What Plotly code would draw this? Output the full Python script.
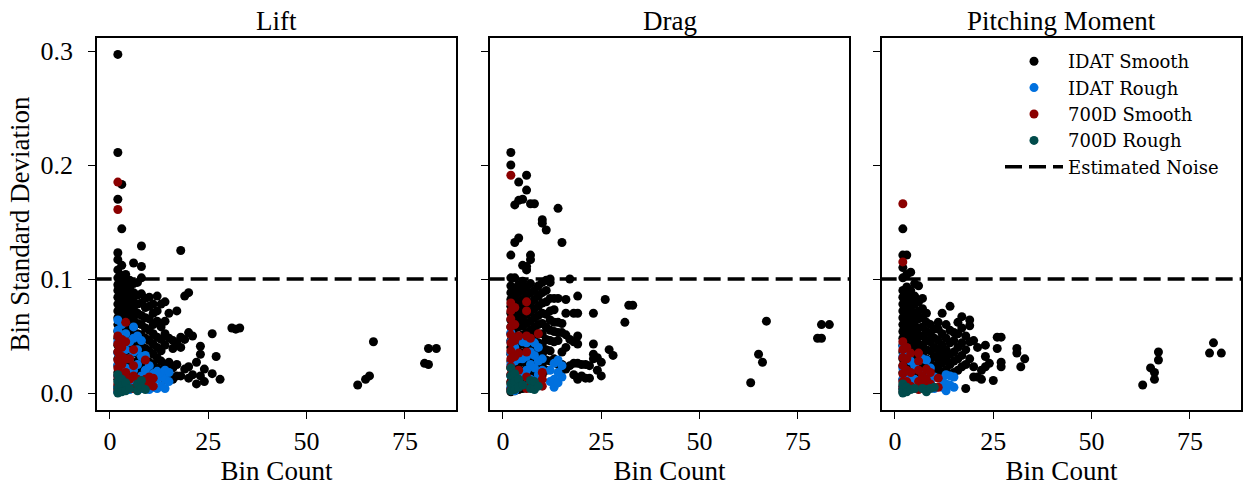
import plotly.graph_objects as go

# ---------------- data (columns: (bin count, [bin std values])) ----------------
panel_titles = ["Lift", "Drag", "Pitching Moment"]
series_names = ["IDAT Smooth", "IDAT Rough", "700D Smooth", "700D Rough"]
series_colors = ["#000000", "#0070DE", "#8B0000", "#004B4B"]
estimated_noise = 0.1
x_tick_values = [0, 25, 50, 75]
y_tick_values = [0.0, 0.1, 0.2, 0.3]

lift_idat_smooth = [
    (2, [0.297, 0.211, 0.170, 0.123, 0.117, 0.108, 0.101, 0.095, 0.090, 0.084, 0.078, 0.072,
         0.066, 0.060, 0.054, 0.048, 0.042, 0.036, 0.030, 0.024, 0.018, 0.012, 0.006, 0.001]),
    (3, [0.183, 0.144, 0.112, 0.103, 0.097, 0.091, 0.086, 0.079, 0.072, 0.065, 0.058, 0.051,
         0.044, 0.037, 0.029, 0.021, 0.012, 0.004]),
    (4, [0.104, 0.098, 0.092, 0.087, 0.081, 0.074, 0.068, 0.061, 0.053, 0.046, 0.039, 0.031,
         0.022, 0.013, 0.005]),
    (5, [0.099, 0.092, 0.084, 0.077, 0.070, 0.063, 0.055, 0.048, 0.040, 0.032, 0.024, 0.015]),
    (6, [0.114, 0.096, 0.088, 0.080, 0.073, 0.066, 0.058, 0.050, 0.043, 0.035, 0.027, 0.018, 0.009]),
    (7, [0.097, 0.086, 0.078, 0.070, 0.061, 0.052, 0.045, 0.036, 0.028, 0.019]),
    (8, [0.129, 0.111, 0.101, 0.087, 0.079, 0.068, 0.060, 0.051, 0.042, 0.033, 0.024, 0.014]),
    (9, [0.083, 0.075, 0.066, 0.057, 0.048, 0.039, 0.030, 0.021]),
    (10, [0.084, 0.076, 0.065, 0.055, 0.046, 0.037, 0.027, 0.018]),
    (11, [0.078, 0.070, 0.060, 0.052, 0.043, 0.034, 0.025, 0.016]),
    (12, [0.085, 0.072, 0.063, 0.049, 0.040, 0.031, 0.022, 0.013]),
    (13, [0.078, 0.058, 0.047, 0.037, 0.028, 0.020]),
    (14, [0.080, 0.063, 0.052, 0.042, 0.024, 0.012]),
    (15, [0.070, 0.048, 0.027, 0.017]),
    (16, [0.046, 0.039, 0.022, 0.012]),
    (17, [0.072, 0.044, 0.025, 0.015]),
    (18, [0.125, 0.049, 0.040, 0.015]),
    (19, [0.085, 0.047, 0.021]),
    (20, [0.088, 0.053, 0.023, 0.013]),
    (21, [0.050, 0.016]),
    (22, [0.027, 0.008]),
    (23, [0.041, 0.034, 0.015]),
    (24, [0.021, 0.010]),
    (26, [0.052, 0.017]),
    (27, [0.032]),
    (28, [0.012]),
    (31, [0.057]),
    (32, [0.056]),
    (33, [0.057]),
    (63, [0.007]),
    (65, [0.012]),
    (66, [0.015]),
    (67, [0.045]),
    (80, [0.026]),
    (81, [0.025, 0.039]),
    (83, [0.039]),
]
lift_idat_rough = [
    (2, [0.064, 0.055, 0.045, 0.035, 0.025, 0.015, 0.005, 0.001]),
    (3, [0.060, 0.050, 0.040, 0.030, 0.020, 0.010, 0.003]),
    (4, [0.052, 0.038, 0.022, 0.008]),
    (5, [0.045, 0.030, 0.012, 0.003]),
    (6, [0.058, 0.048, 0.036, 0.020, 0.006]),
    (7, [0.050, 0.038, 0.025, 0.009]),
    (8, [0.046, 0.032, 0.015, 0.004]),
    (9, [0.033, 0.020, 0.006]),
    (10, [0.024, 0.010, 0.003]),
    (11, [0.017, 0.005]),
    (12, [0.019, 0.012, 0.004]),
    (13, [0.015, 0.006]),
    (14, [0.020, 0.012, 0.004]),
    (15, [0.018, 0.010]),
]
lift_700d_smooth = [
    (2, [0.185, 0.161, 0.050, 0.043, 0.036, 0.029, 0.022, 0.015, 0.008, 0.003]),
    (3, [0.047, 0.040, 0.032, 0.025, 0.017, 0.010]),
    (4, [0.062, 0.045, 0.030, 0.018, 0.006]),
    (5, [0.030, 0.012]),
    (6, [0.038, 0.024, 0.015, 0.004]),
    (7, [0.012, 0.005]),
    (9, [0.029, 0.012, 0.005]),
    (10, [0.014, 0.007]),
    (11, [0.013, 0.006]),
]
lift_700d_rough = [
    (2, [0.016, 0.010, 0.004, 0.000]),
    (3, [0.012, 0.006, 0.001]),
    (4, [0.009, 0.002]),
    (5, [0.004]),
    (7, [0.008, 0.002]),
    (8, [0.011, 0.005]),
    (9, [0.003]),
]

drag_idat_smooth = [
    (2, [0.211, 0.200, 0.121, 0.101, 0.094, 0.088, 0.082, 0.076, 0.070, 0.064, 0.058, 0.052,
         0.046, 0.040, 0.034, 0.028, 0.022, 0.016, 0.010, 0.004, 0.001]),
    (3, [0.165, 0.132, 0.101, 0.092, 0.085, 0.078, 0.071, 0.064, 0.057, 0.050, 0.043, 0.036,
         0.029, 0.022, 0.015, 0.008, 0.002]),
    (4, [0.185, 0.169, 0.136, 0.095, 0.088, 0.080, 0.072, 0.065, 0.058, 0.050, 0.042, 0.034,
         0.026, 0.018, 0.010, 0.003]),
    (5, [0.170, 0.112, 0.098, 0.090, 0.082, 0.074, 0.066, 0.059, 0.051, 0.043, 0.035, 0.027,
         0.019, 0.011, 0.004]),
    (6, [0.191, 0.178, 0.111, 0.108, 0.093, 0.085, 0.077, 0.069, 0.061, 0.053, 0.045, 0.037,
         0.029, 0.021, 0.013, 0.005]),
    (7, [0.166, 0.121, 0.117, 0.096, 0.088, 0.079, 0.071, 0.063, 0.055, 0.047, 0.039, 0.031,
         0.023, 0.015, 0.007]),
    (8, [0.166, 0.090, 0.082, 0.074, 0.066, 0.058, 0.050, 0.042, 0.034, 0.026, 0.018, 0.010]),
    (9, [0.094, 0.085, 0.076, 0.068, 0.060, 0.052, 0.044, 0.036, 0.028, 0.020, 0.012]),
    (10, [0.152, 0.149, 0.097, 0.088, 0.079, 0.070, 0.061, 0.052, 0.043, 0.034, 0.025, 0.016]),
    (11, [0.143, 0.099, 0.090, 0.080, 0.069, 0.058, 0.047, 0.038, 0.029, 0.020]),
    (12, [0.100, 0.097, 0.083, 0.072, 0.064, 0.055, 0.046, 0.037, 0.028]),
    (13, [0.083, 0.073, 0.062, 0.054, 0.045, 0.030]),
    (14, [0.162, 0.083, 0.062, 0.053, 0.046, 0.025]),
    (15, [0.132, 0.061, 0.053, 0.036, 0.025, 0.020]),
    (16, [0.082, 0.070, 0.051, 0.040, 0.021]),
    (17, [0.100, 0.047, 0.024]),
    (18, [0.070, 0.045, 0.026, 0.016]),
    (19, [0.085, 0.070, 0.050, 0.043, 0.026, 0.012]),
    (20, [0.025, 0.015]),
    (21, [0.025, 0.013]),
    (22, [0.024, 0.013]),
    (23, [0.070, 0.043, 0.034, 0.030]),
    (24, [0.031, 0.020]),
    (25, [0.027, 0.015]),
    (26, [0.082]),
    (27, [0.038]),
    (28, [0.033]),
    (31, [0.062]),
    (32, [0.077]),
    (33, [0.077]),
    (63, [0.009]),
    (65, [0.034]),
    (66, [0.027]),
    (67, [0.063]),
    (80, [0.048]),
    (81, [0.048, 0.060]),
    (83, [0.060]),
]
drag_idat_rough = [
    (2, [0.053, 0.045, 0.035, 0.025, 0.015, 0.005]),
    (3, [0.040, 0.028, 0.012, 0.002]),
    (4, [0.030, 0.015]),
    (5, [0.045, 0.030, 0.018]),
    (6, [0.044, 0.032, 0.020, 0.006]),
    (7, [0.046, 0.036, 0.025, 0.012]),
    (8, [0.044, 0.033, 0.022]),
    (9, [0.040, 0.028, 0.016]),
    (10, [0.030, 0.020]),
    (12, [0.020, 0.010]),
    (13, [0.026, 0.012, 0.005]),
    (14, [0.029, 0.018, 0.009]),
    (15, [0.024, 0.014]),
]
drag_700d_smooth = [
    (2, [0.191, 0.079, 0.072, 0.065, 0.058, 0.051, 0.044, 0.037, 0.030, 0.023, 0.016, 0.009, 0.003]),
    (3, [0.075, 0.060, 0.046, 0.032, 0.018, 0.005]),
    (4, [0.050, 0.035, 0.020, 0.008]),
    (6, [0.080, 0.072, 0.050, 0.036, 0.014, 0.004]),
    (7, [0.048, 0.010]),
    (9, [0.052, 0.008]),
    (10, [0.018, 0.012, 0.006]),
]
drag_700d_rough = [
    (2, [0.022, 0.015, 0.008, 0.002]),
    (3, [0.017, 0.010, 0.003]),
    (4, [0.012, 0.005]),
    (5, [0.007]),
    (7, [0.011, 0.004]),
    (8, [0.010, 0.003]),
    (9, [0.006]),
]

moment_idat_smooth = [
    (2, [0.144, 0.121, 0.110, 0.101, 0.090, 0.084, 0.078, 0.072, 0.066, 0.060, 0.054, 0.048,
         0.042, 0.036, 0.030, 0.024, 0.018, 0.012, 0.006, 0.001]),
    (3, [0.121, 0.104, 0.093, 0.087, 0.080, 0.073, 0.066, 0.059, 0.052, 0.045, 0.038, 0.031,
         0.024, 0.017, 0.010, 0.003]),
    (4, [0.106, 0.090, 0.082, 0.075, 0.068, 0.061, 0.054, 0.047, 0.040, 0.033, 0.026, 0.019,
         0.012, 0.005]),
    (5, [0.096, 0.085, 0.078, 0.070, 0.063, 0.056, 0.049, 0.042, 0.035, 0.028, 0.021, 0.014]),
    (6, [0.094, 0.080, 0.072, 0.065, 0.057, 0.050, 0.043, 0.036, 0.029, 0.022, 0.015]),
    (7, [0.083, 0.074, 0.066, 0.058, 0.050, 0.042, 0.034, 0.026, 0.018]),
    (8, [0.070, 0.062, 0.054, 0.046, 0.038, 0.030, 0.022]),
    (9, [0.060, 0.052, 0.045, 0.037, 0.029, 0.021, 0.013]),
    (10, [0.056, 0.048, 0.040, 0.032, 0.024, 0.016]),
    (11, [0.062, 0.056, 0.046, 0.038, 0.030, 0.022]),
    (12, [0.070, 0.052, 0.042, 0.034, 0.026, 0.018]),
    (13, [0.060, 0.048, 0.038, 0.030, 0.020]),
    (14, [0.076, 0.055, 0.044, 0.034, 0.025, 0.016]),
    (15, [0.053, 0.046, 0.036, 0.028, 0.018]),
    (16, [0.062, 0.052, 0.040, 0.030, 0.020]),
    (17, [0.067, 0.057, 0.044, 0.033, 0.023]),
    (18, [0.050, 0.038, 0.025, 0.004]),
    (19, [0.064, 0.059, 0.045, 0.030]),
    (20, [0.046, 0.023, 0.014]),
    (21, [0.040, 0.014]),
    (22, [0.020, 0.012]),
    (23, [0.042, 0.032, 0.023]),
    (24, [0.026]),
    (25, [0.011]),
    (26, [0.049, 0.039]),
    (27, [0.049, 0.027, 0.023]),
    (31, [0.039, 0.035]),
    (32, [0.023]),
    (33, [0.030]),
    (63, [0.007]),
    (65, [0.022]),
    (66, [0.018, 0.012]),
    (67, [0.036, 0.029]),
    (80, [0.035]),
    (81, [0.044]),
    (83, [0.035]),
]
moment_idat_rough = [
    (2, [0.041, 0.032, 0.022, 0.012, 0.004]),
    (3, [0.036, 0.016]),
    (4, [0.028, 0.010]),
    (5, [0.024, 0.012]),
    (7, [0.030, 0.018, 0.008]),
    (8, [0.029, 0.015]),
    (9, [0.022, 0.010]),
    (10, [0.014, 0.004]),
    (12, [0.012, 0.005]),
    (13, [0.016, 0.008, 0.002]),
    (14, [0.015, 0.007]),
    (15, [0.014, 0.005]),
]
moment_700d_smooth = [
    (2, [0.166, 0.115, 0.045, 0.038, 0.031, 0.024, 0.017, 0.010, 0.004]),
    (3, [0.040, 0.030, 0.020, 0.010]),
    (4, [0.035, 0.018, 0.006]),
    (6, [0.035, 0.028, 0.020, 0.010, 0.003]),
    (7, [0.015, 0.006]),
    (8, [0.021, 0.012, 0.004]),
    (9, [0.018, 0.008]),
    (11, [0.013, 0.005]),
]
moment_700d_rough = [
    (2, [0.008, 0.003, 0.000]),
    (3, [0.005, 0.001]),
    (4, [0.003]),
    (5, [0.004]),
    (7, [0.004]),
    (8, [0.003, 0.001]),
    (9, [0.004]),
    (10, [0.005]),
]

panels = [
    [lift_idat_smooth, lift_idat_rough, lift_700d_smooth, lift_700d_rough],
    [drag_idat_smooth, drag_idat_rough, drag_700d_smooth, drag_700d_rough],
    [moment_idat_smooth, moment_idat_rough, moment_700d_smooth, moment_700d_rough],
]


def expand(columns):
    xs, ys = [], []
    for count, values in columns:
        for v in values:
            xs.append(count)
            ys.append(v)
    return xs, ys


# ---------------- figure ----------------
FONT = "Liberation Serif"
LEGEND_FONT = "DejaVu Serif"
W, H = 1248, 486
ML, MR, MT, MB = 97, 7, 38, 76
PW = W - ML - MR
PH = H - MT - MB
domains = [(0.0, 359 / PW), (393 / PW, 752 / PW), (785 / PW, 1.0)]
x_range = [-3.3, 88.0]
y_range = [-0.0149, 0.3114]

fig = go.Figure()
for p, series_list in enumerate(panels):
    xa = "x" if p == 0 else f"x{p + 1}"
    ya = "y" if p == 0 else f"y{p + 1}"
    for s, columns in enumerate(series_list):
        xs, ys = expand(columns)
        fig.add_trace(go.Scatter(
            x=xs, y=ys, mode="markers", xaxis=xa, yaxis=ya,
            name=series_names[s], showlegend=(p == 0),
            marker=dict(color=series_colors[s], size=9, line=dict(width=0)),
        ))
    fig.add_trace(go.Scatter(
        x=[-10, 100], y=[estimated_noise, estimated_noise], mode="lines",
        xaxis=xa, yaxis=ya, name="Estimated Noise",
        showlegend=(p == 0),
        line=dict(color="black", width=3.5, dash="17px,7px"),
    ))

axis_common = dict(
    showline=True, mirror=True, linecolor="black", linewidth=1.6,
    ticks="outside", ticklen=7, tickwidth=1.4, tickcolor="black",
    showgrid=False, zeroline=False, automargin=False,
    tickfont=dict(family=FONT, size=26, color="black"),
)
layout = dict(
    width=W, height=H,
    margin=dict(l=ML, r=MR, t=MT, b=MB, autoexpand=False),
    paper_bgcolor="white", plot_bgcolor="white",
    font=dict(family=FONT, color="black"),
    showlegend=True,
    legend=dict(
        x=(1000 - ML) / PW, y=1 - (43 - MT) / PH,
        xanchor="left", yanchor="top",
        bgcolor="rgba(255,255,255,0)", borderwidth=0,
        font=dict(family=LEGEND_FONT, size=18, color="black"),
        itemwidth=58, tracegroupgap=0,
    ),
)
for p in range(3):
    sx = "" if p == 0 else str(p + 1)
    layout[f"xaxis{sx}"] = dict(
        axis_common, domain=list(domains[p]), range=x_range, anchor=f"y{sx}",
        tickvals=x_tick_values, ticktext=[str(v) for v in x_tick_values],
        title=dict(text="Bin Count", font=dict(family=FONT, size=27, color="black"), standoff=10),
    )
    ydict = dict(
        axis_common, domain=[0, 1], range=y_range, anchor=f"x{sx}",
        tickvals=y_tick_values,
        ticktext=[f"{v:.1f}" for v in y_tick_values] if p == 0 else ["", "", "", ""],
        showticklabels=(p == 0),
    )
    if p == 0:
        ydict["ticklabelstandoff"] = 10
        ydict["title"] = dict(text="Bin Standard Deviation",
                              font=dict(family=FONT, size=27, color="black"), standoff=3)
    layout[f"yaxis{sx}"] = ydict

fig.update_layout(**layout)

for p in range(3):
    fig.add_annotation(
        text=panel_titles[p], xref="paper", yref="paper",
        x=(domains[p][0] + domains[p][1]) / 2, y=1.0,
        xanchor="center", yanchor="bottom", yshift=0, showarrow=False,
        font=dict(family=FONT, size=27, color="black"),
    )

fig.write_html("out.html")
